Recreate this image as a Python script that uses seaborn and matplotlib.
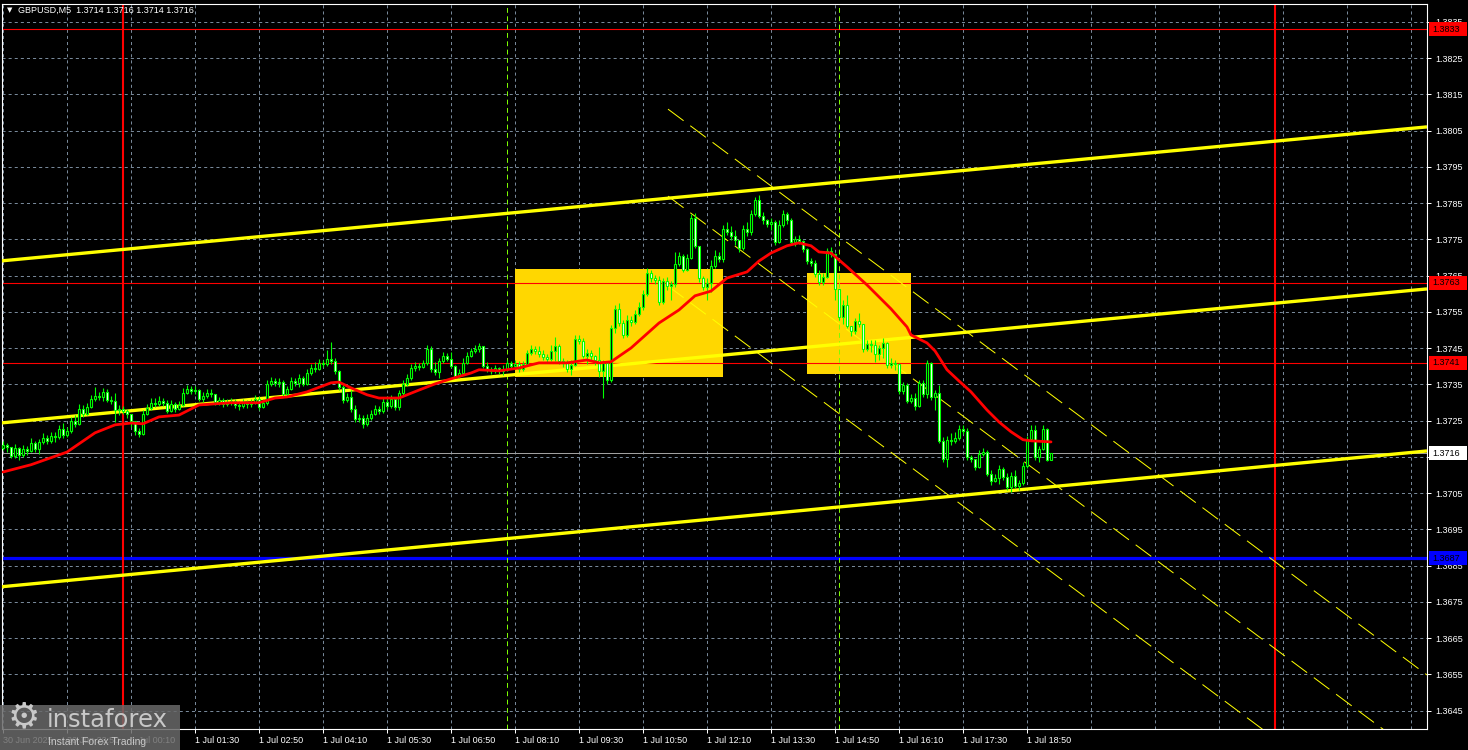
import numpy as np
import pandas as pd
import seaborn as sns
import matplotlib.pyplot as plt
import matplotlib.transforms as mtransforms
from matplotlib.patches import Rectangle

# GBPUSD M5, one bar every 5 minutes starting 30 Jun 21:30 (bar index = position)
first_open = 1.37174
closes = [
    1.37183, 1.37177, 1.37152, 1.37174, 1.37155, 1.37172, 1.37166, 1.37188, 1.37172, 1.37191,
    1.37202, 1.37194, 1.37208, 1.37205, 1.37227, 1.37210, 1.37221, 1.37249, 1.37241, 1.37282,
    1.37268, 1.37287, 1.37310, 1.37318, 1.37315, 1.37329, 1.37307, 1.37304, 1.37279, 1.37282,
    1.37276, 1.37268, 1.37249, 1.37221, 1.37213, 1.37268, 1.37285, 1.37299, 1.37296, 1.37304,
    1.37299, 1.37276, 1.37296, 1.37282, 1.37293, 1.37326, 1.37337, 1.37332, 1.37334, 1.37310,
    1.37318, 1.37326, 1.37323, 1.37301, 1.37307, 1.37296, 1.37301, 1.37304, 1.37293, 1.37290,
    1.37301, 1.37296, 1.37301, 1.37310, 1.37287, 1.37299, 1.37351, 1.37359, 1.37354, 1.37356,
    1.37323, 1.37337, 1.37359, 1.37354, 1.37368, 1.37351, 1.37381, 1.37395, 1.37392, 1.37409,
    1.37406, 1.37420, 1.37414, 1.37387, 1.37343, 1.37307, 1.37315, 1.37282, 1.37254, 1.37257,
    1.37241, 1.37257, 1.37268, 1.37282, 1.37276, 1.37301, 1.37290, 1.37310, 1.37287, 1.37326,
    1.37351, 1.37368, 1.37395, 1.37401, 1.37398, 1.37409, 1.37447, 1.37392, 1.37384, 1.37414,
    1.37428, 1.37420, 1.37401, 1.37373, 1.37381, 1.37409, 1.37428, 1.37442, 1.37447, 1.37456,
    1.37401, 1.37392, 1.37387, 1.37395, 1.37387, 1.37390, 1.37409, 1.37401, 1.37406, 1.37392,
    1.37406, 1.37436, 1.37447, 1.37442, 1.37434, 1.37425, 1.37420, 1.37442, 1.37456, 1.37414,
    1.37409, 1.37392, 1.37403, 1.37475, 1.37470, 1.37428, 1.37436, 1.37428, 1.37417, 1.37387,
    1.37409, 1.37362, 1.37505, 1.37558, 1.37519, 1.37486, 1.37527, 1.37522, 1.37544, 1.37563,
    1.37599, 1.37657, 1.37643, 1.37638, 1.37577, 1.37635, 1.37621, 1.37627, 1.37682, 1.37704,
    1.37665, 1.37698, 1.37809, 1.37732, 1.37643, 1.37618, 1.37630, 1.37676, 1.37704, 1.37696,
    1.37778, 1.37770, 1.37759, 1.37748, 1.37726, 1.37778, 1.37770, 1.37820, 1.37858, 1.37814,
    1.37803, 1.37792, 1.37798, 1.37743, 1.37789, 1.37820, 1.37803, 1.37743, 1.37751, 1.37745,
    1.37723, 1.37690, 1.37685, 1.37654, 1.37632, 1.37646, 1.37718, 1.37710, 1.37613, 1.37536,
    1.37569, 1.37511, 1.37497, 1.37525, 1.37516, 1.37447, 1.37461, 1.37458, 1.37434, 1.37450,
    1.37464, 1.37403, 1.37409, 1.37406, 1.37332, 1.37348, 1.37304, 1.37312, 1.37290, 1.37354,
    1.37323, 1.37409, 1.37315, 1.37326, 1.37194, 1.37144, 1.37197, 1.37194, 1.37202, 1.37227,
    1.37221, 1.37150, 1.37144, 1.37122, 1.37158, 1.37163, 1.37103, 1.37083, 1.37092, 1.37117,
    1.37094, 1.37067, 1.37097, 1.37070, 1.37078, 1.37125, 1.37199, 1.37224, 1.37150, 1.37172,
    1.37227, 1.37141, 1.37161,
]
highs = [
    1.37194, 1.37188, 1.37177, 1.37185, 1.37177, 1.37183, 1.37180, 1.37202, 1.37194, 1.37199,
    1.37216, 1.37210, 1.37219, 1.37219, 1.37238, 1.37243, 1.37232, 1.37260, 1.37265, 1.37296,
    1.37293, 1.37299, 1.37321, 1.37343, 1.37329, 1.37340, 1.37337, 1.37318, 1.37326, 1.37293,
    1.37290, 1.37282, 1.37263, 1.37246, 1.37230, 1.37279, 1.37296, 1.37312, 1.37312, 1.37318,
    1.37312, 1.37307, 1.37307, 1.37301, 1.37304, 1.37340, 1.37348, 1.37345, 1.37345, 1.37337,
    1.37329, 1.37337, 1.37337, 1.37321, 1.37315, 1.37312, 1.37310, 1.37312, 1.37310, 1.37304,
    1.37310, 1.37307, 1.37310, 1.37321, 1.37318, 1.37310, 1.37362, 1.37370, 1.37368, 1.37368,
    1.37362, 1.37345, 1.37370, 1.37368, 1.37379, 1.37373, 1.37392, 1.37406, 1.37412, 1.37420,
    1.37417, 1.37445, 1.37467, 1.37423, 1.37390, 1.37348, 1.37326, 1.37334, 1.37293, 1.37268,
    1.37265, 1.37268, 1.37279, 1.37293, 1.37290, 1.37312, 1.37318, 1.37321, 1.37315, 1.37334,
    1.37362, 1.37379, 1.37406, 1.37412, 1.37409, 1.37417, 1.37458, 1.37456, 1.37412, 1.37423,
    1.37439, 1.37436, 1.37439, 1.37403, 1.37392, 1.37423, 1.37439, 1.37450, 1.37458, 1.37464,
    1.37453, 1.37412, 1.37398, 1.37403, 1.37398, 1.37403, 1.37417, 1.37414, 1.37417, 1.37414,
    1.37414, 1.37445, 1.37458, 1.37456, 1.37456, 1.37445, 1.37434, 1.37458, 1.37481, 1.37461,
    1.37423, 1.37417, 1.37417, 1.37486, 1.37486, 1.37478, 1.37447, 1.37445, 1.37431, 1.37453,
    1.37417, 1.37412, 1.37514, 1.37569, 1.37574, 1.37527, 1.37541, 1.37538, 1.37555, 1.37577,
    1.37610, 1.37671, 1.37665, 1.37652, 1.37649, 1.37643, 1.37646, 1.37635, 1.37715, 1.37715,
    1.37710, 1.37710, 1.37820, 1.37823, 1.37726, 1.37649, 1.37643, 1.37693, 1.37721, 1.37715,
    1.37789, 1.37798, 1.37787, 1.37776, 1.37748, 1.37789, 1.37798, 1.37831, 1.37867, 1.37872,
    1.37825, 1.37806, 1.37809, 1.37803, 1.37803, 1.37831, 1.37825, 1.37809, 1.37759, 1.37762,
    1.37748, 1.37726, 1.37698, 1.37693, 1.37665, 1.37657, 1.37726, 1.37729, 1.37712, 1.37610,
    1.37583, 1.37596, 1.37508, 1.37533, 1.37547, 1.37514, 1.37472, 1.37472, 1.37472, 1.37458,
    1.37478, 1.37467, 1.37423, 1.37417, 1.37409, 1.37356, 1.37354, 1.37323, 1.37326, 1.37362,
    1.37362, 1.37417, 1.37412, 1.37334, 1.37348, 1.37205, 1.37208, 1.37216, 1.37219, 1.37238,
    1.37238, 1.37230, 1.37155, 1.37141, 1.37169, 1.37174, 1.37169, 1.37114, 1.37103, 1.37128,
    1.37122, 1.37105, 1.37108, 1.37114, 1.37086, 1.37136, 1.37208, 1.37238, 1.37238, 1.37180,
    1.37238, 1.37230, 1.37161,
]
lows = [
    1.37169, 1.37163, 1.37147, 1.37147, 1.37141, 1.37150, 1.37155, 1.37163, 1.37163, 1.37158,
    1.37185, 1.37185, 1.37188, 1.37191, 1.37199, 1.37202, 1.37205, 1.37216, 1.37232, 1.37238,
    1.37260, 1.37265, 1.37285, 1.37304, 1.37307, 1.37304, 1.37301, 1.37296, 1.37246, 1.37265,
    1.37268, 1.37257, 1.37232, 1.37210, 1.37205, 1.37210, 1.37265, 1.37279, 1.37287, 1.37290,
    1.37290, 1.37271, 1.37274, 1.37274, 1.37279, 1.37290, 1.37323, 1.37323, 1.37323, 1.37304,
    1.37301, 1.37312, 1.37315, 1.37293, 1.37293, 1.37287, 1.37290, 1.37293, 1.37285, 1.37279,
    1.37285, 1.37285, 1.37287, 1.37296, 1.37279, 1.37285, 1.37293, 1.37345, 1.37345, 1.37343,
    1.37318, 1.37315, 1.37334, 1.37345, 1.37343, 1.37345, 1.37348, 1.37376, 1.37384, 1.37390,
    1.37398, 1.37401, 1.37406, 1.37379, 1.37334, 1.37299, 1.37301, 1.37274, 1.37246, 1.37246,
    1.37230, 1.37235, 1.37252, 1.37265, 1.37268, 1.37271, 1.37282, 1.37285, 1.37279, 1.37279,
    1.37321, 1.37345, 1.37362, 1.37387, 1.37390, 1.37395, 1.37403, 1.37384, 1.37376, 1.37368,
    1.37409, 1.37414, 1.37395, 1.37368, 1.37368, 1.37376, 1.37406, 1.37425, 1.37436, 1.37439,
    1.37395, 1.37384, 1.37379, 1.37381, 1.37379, 1.37376, 1.37387, 1.37392, 1.37395, 1.37384,
    1.37387, 1.37401, 1.37431, 1.37434, 1.37425, 1.37417, 1.37412, 1.37414, 1.37414, 1.37406,
    1.37398, 1.37384, 1.37376, 1.37401, 1.37461, 1.37423, 1.37406, 1.37417, 1.37403, 1.37370,
    1.37312, 1.37351, 1.37356, 1.37492, 1.37511, 1.37478, 1.37481, 1.37511, 1.37516, 1.37538,
    1.37555, 1.37594, 1.37632, 1.37627, 1.37569, 1.37572, 1.37610, 1.37583, 1.37618, 1.37676,
    1.37660, 1.37663, 1.37696, 1.37726, 1.37632, 1.37610, 1.37583, 1.37605, 1.37671, 1.37687,
    1.37687, 1.37762, 1.37748, 1.37734, 1.37715, 1.37721, 1.37759, 1.37762, 1.37814, 1.37809,
    1.37792, 1.37784, 1.37776, 1.37734, 1.37740, 1.37784, 1.37792, 1.37734, 1.37732, 1.37737,
    1.37715, 1.37682, 1.37676, 1.37646, 1.37624, 1.37624, 1.37643, 1.37701, 1.37583, 1.37527,
    1.37516, 1.37505, 1.37483, 1.37489, 1.37508, 1.37439, 1.37442, 1.37439, 1.37412, 1.37417,
    1.37423, 1.37395, 1.37395, 1.37390, 1.37323, 1.37323, 1.37299, 1.37299, 1.37279, 1.37287,
    1.37315, 1.37312, 1.37307, 1.37279, 1.37188, 1.37136, 1.37122, 1.37183, 1.37188, 1.37197,
    1.37213, 1.37141, 1.37136, 1.37114, 1.37119, 1.37152, 1.37097, 1.37072, 1.37081, 1.37075,
    1.37086, 1.37059, 1.37053, 1.37064, 1.37059, 1.37072, 1.37119, 1.37194, 1.37141, 1.37136,
    1.37169, 1.37139, 1.37141,
]

# moving average (red line), read at selected bars
ma_bars = [0, 7, 16, 23, 28, 32, 35, 39, 44, 49, 57, 64, 68, 71, 76, 82, 84, 87, 91, 94,
           99, 104, 108, 112, 117, 119, 124, 129, 134, 141, 146, 149, 152, 157, 164, 169, 173, 177, 181, 186,
           189, 192, 196, 199, 202, 204, 207, 211, 216, 219, 222, 226, 227, 229, 231, 233, 236, 239, 242, 246,
           249, 252, 255, 257, 262]
ma_values = [1.37108, 1.37128, 1.37163, 1.37216, 1.37238, 1.37243, 1.37241, 1.37260, 1.37265, 1.37293,
             1.37299, 1.37299, 1.37312, 1.37315, 1.37329, 1.37354, 1.37356, 1.37340, 1.37321, 1.37312,
             1.37312, 1.37334, 1.37351, 1.37365, 1.37381, 1.37390, 1.37387, 1.37395, 1.37409, 1.37409,
             1.37417, 1.37409, 1.37412, 1.37450, 1.37519, 1.37555, 1.37594, 1.37607, 1.37643, 1.37660,
             1.37690, 1.37712, 1.37732, 1.37740, 1.37732, 1.37715, 1.37712, 1.37674, 1.37624, 1.37591,
             1.37558, 1.37508, 1.37486, 1.37475, 1.37464, 1.37442, 1.37390, 1.37359, 1.37329, 1.37279,
             1.37246, 1.37219, 1.37197, 1.37194, 1.37191]

# ascending channel (solid yellow)
channel_x = [-0.75, 356]
channel_upper = [1.37690, 1.38060]
channel_mid = [1.37243, 1.37613]
channel_lower = [1.36791, 1.37166]

# descending dashed channel
fan_x = [166.25, 356]
fan_a = [1.38109, 1.36548]
fan_b = [1.37869, 1.36308]
fan_c = [1.37621, 1.36060]

# yellow zones: start bar, end bar, low, high
zone_start = [128, 201]
zone_end = [180, 227]
zone_low = [1.37371, 1.37379]
zone_high = [1.37669, 1.37658]

red_levels = [1.3833, 1.3763, 1.3741]
blue_level = 1.3687
bid_price = 1.3716
day_lines = [30, 318]
session_lines = [126, 209]

price_ticks = [1.3645, 1.3655, 1.3665, 1.3675, 1.3685, 1.3695, 1.3705, 1.3715, 1.3725, 1.3735,
               1.3745, 1.3755, 1.3765, 1.3775, 1.3785, 1.3795, 1.3805, 1.3815, 1.3825, 1.3835]
time_bars = [0, 16, 32, 48, 64, 80, 96, 112, 128, 144, 160, 176, 192, 208, 224, 240, 256]
time_labels = ["30 Jun 2025", "30 Jun 22:50", "1 Jul 00:10", "1 Jul 01:30", "1 Jul 02:50",
               "1 Jul 04:10", "1 Jul 05:30", "1 Jul 06:50", "1 Jul 08:10", "1 Jul 09:30",
               "1 Jul 10:50", "1 Jul 12:10", "1 Jul 13:30", "1 Jul 14:50", "1 Jul 16:10",
               "1 Jul 17:30", "1 Jul 18:50"]

sns.set_style("dark", {"axes.facecolor": "black", "figure.facecolor": "black"})
plt.rcParams["font.family"] = ["Liberation Sans", "DejaVu Sans"]
plt.rcParams["lines.scale_dashes"] = False

fig = plt.figure(figsize=(14.68, 7.5), dpi=100)
fig.patch.set_facecolor("black")
ax = fig.add_axes([2 / 1468, 21 / 750, 1425 / 1468, 725 / 750])
ax.set_facecolor("black")
ax.set_xlim(-0.25, 356)
ax.set_ylim(1.36399, 1.38399)

# grid
grid_kw = dict(color="#778899", lw=0.72, ls=(0, (2.2, 2.2)), zorder=0.5)
for p in price_ticks:
    ax.axhline(p, **grid_kw)
for b in range(0, 357, 16):
    ax.axvline(b, **grid_kw)

# zones
for x0, x1, lo, hi in zip(zone_start, zone_end, zone_low, zone_high):
    ax.add_patch(Rectangle((x0, lo), x1 - x0, hi - lo, facecolor="#ffd700",
                           edgecolor="none", zorder=1))

# levels and vertical markers
for lvl in red_levels:
    ax.axhline(lvl, color="#ff0000", lw=0.8, zorder=2)
ax.axhline(blue_level, color="#0000ff", lw=2.3, zorder=2)
ax.axhline(bid_price, color="#a0a0a0", lw=0.72, zorder=2)
for b in day_lines:
    ax.axvline(b, color="#ff0000", lw=1.5, zorder=2)
for b in session_lines:
    ax.axvline(b, color="#7cfc00", lw=0.72, ls=(0, (3.5, 2.5)), zorder=2)

# channels
for ys in (channel_upper, channel_mid, channel_lower):
    ax.plot(channel_x, ys, color="#ffff00", lw=2.4, zorder=3, solid_capstyle="butt")
for ys in (fan_a, fan_b, fan_c):
    ax.plot(fan_x, ys, color="#ffff00", lw=0.72, ls=(0, (14, 6)), zorder=3)

# candles
df = pd.DataFrame({"close": closes, "high": highs, "low": lows})
df["open"] = [first_open] + closes[:-1]
df["bar"] = np.arange(len(df))
df["high"] = df[["high", "open", "close"]].max(axis=1)
df["low"] = df[["low", "open", "close"]].min(axis=1)
up = df["close"] >= df["open"]
body_bottom = df[["open", "close"]].min(axis=1)
body_h = (df["close"] - df["open"]).abs().clip(lower=0.00001)

ax.vlines(df["bar"], df["low"], df["high"], color="#00ff00", lw=0.8, zorder=4)
ax.bar(df["bar"][up], body_h[up], bottom=body_bottom[up], width=0.55,
       color="black", edgecolor="#00ff00", lw=0.8, zorder=5)
ax.bar(df["bar"][~up], body_h[~up], bottom=body_bottom[~up], width=0.55,
       color="white", edgecolor="#00ff00", lw=0.8, zorder=5)

# moving average
sns.lineplot(x=ma_bars, y=ma_values, color="#ff0000", lw=2.0, ax=ax, zorder=6)

# axes styling
for s in ax.spines.values():
    s.set_visible(True)
    s.set_color("white")
    s.set_linewidth(0.8)
ax.yaxis.tick_right()
ax.set_yticks(price_ticks)
ax.set_yticklabels([f"{p:.4f}" for p in price_ticks])
ax.set_xticks(time_bars)
ax.set_xticklabels(time_labels, ha="left")
ax.tick_params(axis="y", colors="white", labelsize=6.5, length=3, width=0.72, pad=3,
               right=True, left=False)
ax.tick_params(axis="x", colors="white", labelsize=6.5, length=3, width=0.72, pad=2,
               bottom=True)
ax.set_xlabel("")
ax.set_ylabel("")

# price tags on the right scale
trans = mtransforms.blended_transform_factory(ax.transAxes, ax.transData)
tag_h = 0.000386
tags = [(lvl, "#ff0000") for lvl in red_levels] + [(blue_level, "#0000ff"), (bid_price, "white")]
for price, face in tags:
    ax.add_patch(Rectangle((1.0015, price - tag_h / 2), 0.0265, tag_h, transform=trans,
                           facecolor=face, edgecolor="none", clip_on=False, zorder=20))
    ax.text(1.0035, price, f"{price:.4f}", transform=trans, color="black", fontsize=6.5,
            va="center", ha="left", clip_on=False, zorder=21)

# header
ax.text(0.0035, 0.991, "\u25bc", transform=ax.transAxes, color="white", fontsize=5,
        va="center", ha="left", family="DejaVu Sans", zorder=21)
ax.text(0.0112, 0.991, "GBPUSD,M5  1.3714 1.3716 1.3714 1.3716", transform=ax.transAxes,
        color="white", fontsize=6.5, va="center", ha="left", zorder=21)

# watermark
fig.add_artist(Rectangle((0, 0), 180 / 1468, 45 / 750, transform=fig.transFigure,
                         facecolor="#6a6a6a", alpha=0.85, edgecolor="none", zorder=10))
fig.text(24 / 1468, 33 / 750, "\u2699", fontsize=26, color="#c8c8c8", ha="center",
         va="center", family="DejaVu Sans", zorder=11)
fig.text(47 / 1468, 23 / 750, "instaforex", fontsize=17.5, color="#c8c8c8",
         va="baseline", ha="left", family="DejaVu Sans", zorder=11)
fig.text(48 / 1468, 5 / 750, "Instant Forex Trading", fontsize=7.5, color="#c8c8c8",
         va="baseline", ha="left", zorder=11)

fig.savefig("out.png", dpi=100, facecolor="black")
